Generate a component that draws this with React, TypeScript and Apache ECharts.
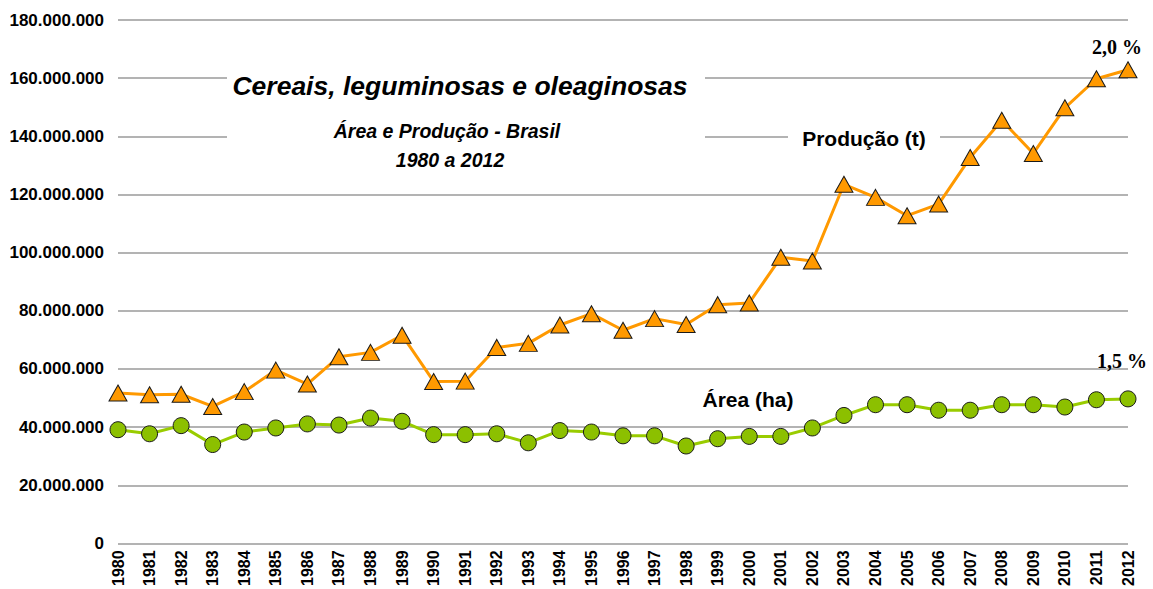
import React, { useEffect, useRef } from "react";
import * as echarts from "echarts";

const years = [
  "1980","1981","1982","1983","1984","1985","1986","1987","1988","1989",
  "1990","1991","1992","1993","1994","1995","1996","1997","1998","1999",
  "2000","2001","2002","2003","2004","2005","2006","2007","2008","2009",
  "2010","2011","2012",
];

// Produção (t)
const producao = [
  51.7, 51.1, 51.3, 47.1, 52.2, 59.6, 54.8, 64.2, 65.7, 71.6,
  55.7, 55.8, 67.4, 68.8, 75.1, 79.0, 73.3, 77.3, 75.3, 82.1,
  82.7, 98.4, 97.1, 123.5, 119.0, 112.7, 116.7, 132.7, 145.5, 134.1,
  149.8, 159.8, 162.9,
].map((v) => v * 1e6);

// Área (ha)
const area = [
  39.1, 37.7, 40.5, 34.0, 38.3, 39.7, 41.1, 40.7, 43.1, 42.0,
  37.4, 37.4, 37.7, 34.6, 38.8, 38.3, 37.0, 37.0, 33.5, 36.0,
  36.8, 36.8, 39.7, 44.0, 47.7, 47.7, 45.8, 45.8, 47.7, 47.7,
  46.9, 49.4, 49.7,
].map((v) => v * 1e6);

const titleText = "Cereais, leguminosas e oleaginosas";
const subtitle1 = "Área e Produção - Brasil";
const subtitle2 = "1980 a 2012";
const prodLabel = "Produção (t)";
const areaLabel = "Área (ha)";
const prodRate = "2,0 %";
const areaRate = "1,5 %";

function fmt(v: number): string {
  return String(Math.round(v)).replace(/\B(?=(\d{3})+(?!\d))/g, ".");
}

export default function App() {
  const ref = useRef<HTMLDivElement>(null);
  useEffect(() => {
    if (!ref.current) return;
    const chart = echarts.init(ref.current, null, { renderer: "svg" });
    const font = "Liberation Sans, Arial, sans-serif";
    const serif = "Liberation Serif, Times New Roman, serif";
    const txt = (
      text: string,
      x: number,
      y: number,
      size: number,
      italic: boolean,
      family: string = font
    ) => ({
      type: "text",
      x,
      y,
      z: 10,
      style: {
        text,
        fontFamily: family,
        fontWeight: "bold",
        fontStyle: italic ? "italic" : "normal",
        fontSize: size,
        fill: "#000",
        align: "center",
        verticalAlign: "middle",
      },
    });
    chart.setOption({
      animation: false,
      backgroundColor: "#ffffff",
      grid: { left: 118, right: 25, top: 20, bottom: 43, containLabel: false },
      xAxis: {
        type: "category",
        data: years,
        boundaryGap: false,
        axisLine: { show: false },
        axisTick: { show: false },
        axisLabel: {
          rotate: 90,
          interval: 0,
          margin: 7,
          fontFamily: font,
          fontWeight: "bold",
          fontSize: 16,
          color: "#000",
        },
        splitLine: { show: false },
      },
      yAxis: {
        type: "value",
        min: 0,
        max: 180000000,
        interval: 20000000,
        axisLine: { show: false },
        axisTick: { show: false },
        axisLabel: {
          formatter: (v: number) => fmt(v),
          margin: 14,
          fontFamily: font,
          fontWeight: "bold",
          fontSize: 17,
          color: "#000",
        },
        splitLine: { lineStyle: { color: "#9a9a9a", width: 1.5 } },
      },
      series: [
        {
          name: "Produção (t)",
          type: "line",
          data: producao,
          symbol: "triangle",
          symbolSize: [18, 16],
          lineStyle: { color: "#FF9900", width: 3 },
          itemStyle: { color: "#FF9900", borderColor: "#1a1a1a", borderWidth: 1 },
          z: 3,
        },
        {
          name: "Área (ha)",
          type: "line",
          data: area,
          symbol: "circle",
          symbolSize: 16,
          lineStyle: { color: "#99CC00", width: 3 },
          itemStyle: { color: "#8CC000", borderColor: "#1a1a1a", borderWidth: 1 },
          z: 3,
        },
      ],
      graphic: [
        {
          type: "rect",
          shape: { x: 227, y: 66, width: 478, height: 116 },
          style: { fill: "#ffffff" },
          z: 1,
          silent: true,
        },
        txt(titleText, 460, 86, 26.5, true),
        txt(subtitle1, 447, 131, 19.5, true),
        txt(subtitle2, 450, 160, 19.5, true),
        {
          type: "rect",
          shape: { x: 788, y: 126, width: 152, height: 22 },
          style: { fill: "#ffffff" },
          z: 1,
          silent: true,
        },
        txt(prodLabel, 864, 138, 21, false),
        txt(areaLabel, 748, 399, 21, false),
        txt(prodRate, 1117, 47, 20, false, serif),
        txt(areaRate, 1122, 361, 20, false, serif),
      ],
    });
    return () => chart.dispose();
  }, []);
  return (
    <div
      ref={ref}
      style={{ position: "fixed", left: 0, top: 0, width: 1153, height: 589 }}
    />
  );
}
